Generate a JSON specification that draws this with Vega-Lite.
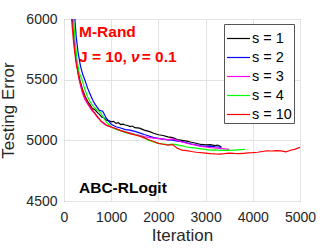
{
  "$schema": "https://vega.github.io/schema/vega-lite/v6.json",
  "width": 236,
  "height": 182,
  "autosize": "none",
  "padding": {"left": 64, "top": 19, "right": 32, "bottom": 48},
  "config": {
    "view": {"stroke": "#555555", "strokeWidth": 1},
    "font": "Liberation Sans",
    "axis": {
      "labelFont": "Liberation Sans",
      "titleFont": "Liberation Sans",
      "labelFontSize": 14,
      "titleFontSize": 17,
      "titleFontWeight": "normal",
      "labelColor": "#262626",
      "titleColor": "#262626",
      "gridColor": "#e3e3e3",
      "gridWidth": 1,
      "domain": false,
      "ticks": false
    }
  },
  "datasets": {
    "curves": [
      {"s": "s = 1", "it": 100, "v": 6700},
      {"s": "s = 1", "it": 180, "v": 6000},
      {"s": "s = 1", "it": 220, "v": 5800},
      {"s": "s = 1", "it": 260, "v": 5650},
      {"s": "s = 1", "it": 300, "v": 5560},
      {"s": "s = 1", "it": 340, "v": 5490},
      {"s": "s = 1", "it": 400, "v": 5410},
      {"s": "s = 1", "it": 450, "v": 5362},
      {"s": "s = 1", "it": 500, "v": 5322},
      {"s": "s = 1", "it": 550, "v": 5295},
      {"s": "s = 1", "it": 600, "v": 5262},
      {"s": "s = 1", "it": 650, "v": 5254},
      {"s": "s = 1", "it": 700, "v": 5232},
      {"s": "s = 1", "it": 750, "v": 5214},
      {"s": "s = 1", "it": 800, "v": 5192},
      {"s": "s = 1", "it": 850, "v": 5184},
      {"s": "s = 1", "it": 900, "v": 5166},
      {"s": "s = 1", "it": 950, "v": 5163},
      {"s": "s = 1", "it": 1000, "v": 5152},
      {"s": "s = 1", "it": 1050, "v": 5156},
      {"s": "s = 1", "it": 1100, "v": 5140},
      {"s": "s = 1", "it": 1150, "v": 5146},
      {"s": "s = 1", "it": 1200, "v": 5130},
      {"s": "s = 1", "it": 1250, "v": 5134},
      {"s": "s = 1", "it": 1300, "v": 5126},
      {"s": "s = 1", "it": 1350, "v": 5122},
      {"s": "s = 1", "it": 1400, "v": 5114},
      {"s": "s = 1", "it": 1450, "v": 5118},
      {"s": "s = 1", "it": 1500, "v": 5104},
      {"s": "s = 1", "it": 1600, "v": 5100},
      {"s": "s = 1", "it": 1700, "v": 5084},
      {"s": "s = 1", "it": 1800, "v": 5074},
      {"s": "s = 1", "it": 1900, "v": 5058},
      {"s": "s = 1", "it": 2000, "v": 5046},
      {"s": "s = 1", "it": 2100, "v": 5040},
      {"s": "s = 1", "it": 2200, "v": 5028},
      {"s": "s = 1", "it": 2300, "v": 5022},
      {"s": "s = 1", "it": 2400, "v": 5006},
      {"s": "s = 1", "it": 2500, "v": 5000},
      {"s": "s = 1", "it": 2600, "v": 4994},
      {"s": "s = 1", "it": 2700, "v": 4984},
      {"s": "s = 1", "it": 2800, "v": 4976},
      {"s": "s = 1", "it": 2900, "v": 4966},
      {"s": "s = 1", "it": 3000, "v": 4962},
      {"s": "s = 1", "it": 3100, "v": 4964},
      {"s": "s = 1", "it": 3200, "v": 4957},
      {"s": "s = 1", "it": 3250, "v": 4961},
      {"s": "s = 1", "it": 3330, "v": 4946},

      {"s": "s = 2", "it": 100, "v": 6800},
      {"s": "s = 2", "it": 230, "v": 6000},
      {"s": "s = 2", "it": 260, "v": 5850},
      {"s": "s = 2", "it": 300, "v": 5720},
      {"s": "s = 2", "it": 350, "v": 5610},
      {"s": "s = 2", "it": 400, "v": 5540},
      {"s": "s = 2", "it": 440, "v": 5500},
      {"s": "s = 2", "it": 500, "v": 5430},
      {"s": "s = 2", "it": 550, "v": 5384},
      {"s": "s = 2", "it": 600, "v": 5338},
      {"s": "s = 2", "it": 650, "v": 5302},
      {"s": "s = 2", "it": 700, "v": 5274},
      {"s": "s = 2", "it": 750, "v": 5248},
      {"s": "s = 2", "it": 820, "v": 5240},
      {"s": "s = 2", "it": 900, "v": 5180},
      {"s": "s = 2", "it": 1000, "v": 5132},
      {"s": "s = 2", "it": 1100, "v": 5112},
      {"s": "s = 2", "it": 1200, "v": 5102},
      {"s": "s = 2", "it": 1300, "v": 5088},
      {"s": "s = 2", "it": 1400, "v": 5084},
      {"s": "s = 2", "it": 1500, "v": 5074},
      {"s": "s = 2", "it": 1600, "v": 5062},
      {"s": "s = 2", "it": 1700, "v": 5048},
      {"s": "s = 2", "it": 1800, "v": 5036},
      {"s": "s = 2", "it": 1900, "v": 5022},
      {"s": "s = 2", "it": 2000, "v": 5016},
      {"s": "s = 2", "it": 2100, "v": 5010},
      {"s": "s = 2", "it": 2200, "v": 5004},
      {"s": "s = 2", "it": 2300, "v": 5002},
      {"s": "s = 2", "it": 2400, "v": 4994},
      {"s": "s = 2", "it": 2500, "v": 4990},
      {"s": "s = 2", "it": 2600, "v": 4980},
      {"s": "s = 2", "it": 2700, "v": 4970},
      {"s": "s = 2", "it": 2800, "v": 4962},
      {"s": "s = 2", "it": 2900, "v": 4954},
      {"s": "s = 2", "it": 3000, "v": 4950},
      {"s": "s = 2", "it": 3100, "v": 4953},
      {"s": "s = 2", "it": 3200, "v": 4947},
      {"s": "s = 2", "it": 3340, "v": 4944},

      {"s": "s = 3", "it": 100, "v": 6700},
      {"s": "s = 3", "it": 190, "v": 6000},
      {"s": "s = 3", "it": 230, "v": 5780},
      {"s": "s = 3", "it": 270, "v": 5630},
      {"s": "s = 3", "it": 310, "v": 5520},
      {"s": "s = 3", "it": 350, "v": 5450},
      {"s": "s = 3", "it": 400, "v": 5380},
      {"s": "s = 3", "it": 450, "v": 5330},
      {"s": "s = 3", "it": 500, "v": 5300},
      {"s": "s = 3", "it": 550, "v": 5270},
      {"s": "s = 3", "it": 600, "v": 5240},
      {"s": "s = 3", "it": 650, "v": 5222},
      {"s": "s = 3", "it": 700, "v": 5194},
      {"s": "s = 3", "it": 750, "v": 5172},
      {"s": "s = 3", "it": 800, "v": 5150},
      {"s": "s = 3", "it": 900, "v": 5122},
      {"s": "s = 3", "it": 1000, "v": 5108},
      {"s": "s = 3", "it": 1100, "v": 5096},
      {"s": "s = 3", "it": 1200, "v": 5080},
      {"s": "s = 3", "it": 1300, "v": 5068},
      {"s": "s = 3", "it": 1400, "v": 5062},
      {"s": "s = 3", "it": 1500, "v": 5050},
      {"s": "s = 3", "it": 1600, "v": 5042},
      {"s": "s = 3", "it": 1700, "v": 5030},
      {"s": "s = 3", "it": 1800, "v": 5024},
      {"s": "s = 3", "it": 1900, "v": 5018},
      {"s": "s = 3", "it": 2000, "v": 5014},
      {"s": "s = 3", "it": 2100, "v": 5010},
      {"s": "s = 3", "it": 2200, "v": 5006},
      {"s": "s = 3", "it": 2300, "v": 5012},
      {"s": "s = 3", "it": 2400, "v": 5000},
      {"s": "s = 3", "it": 2500, "v": 4986},
      {"s": "s = 3", "it": 2600, "v": 4976},
      {"s": "s = 3", "it": 2700, "v": 4966},
      {"s": "s = 3", "it": 2800, "v": 4960},
      {"s": "s = 3", "it": 2900, "v": 4950},
      {"s": "s = 3", "it": 3000, "v": 4946},
      {"s": "s = 3", "it": 3100, "v": 4940},
      {"s": "s = 3", "it": 3200, "v": 4938},
      {"s": "s = 3", "it": 3300, "v": 4934},
      {"s": "s = 3", "it": 3400, "v": 4930},
      {"s": "s = 3", "it": 3500, "v": 4925},

      {"s": "s = 4", "it": 100, "v": 6700},
      {"s": "s = 4", "it": 200, "v": 6000},
      {"s": "s = 4", "it": 240, "v": 5800},
      {"s": "s = 4", "it": 280, "v": 5650},
      {"s": "s = 4", "it": 320, "v": 5560},
      {"s": "s = 4", "it": 381, "v": 5500},
      {"s": "s = 4", "it": 450, "v": 5410},
      {"s": "s = 4", "it": 500, "v": 5360},
      {"s": "s = 4", "it": 550, "v": 5320},
      {"s": "s = 4", "it": 600, "v": 5290},
      {"s": "s = 4", "it": 650, "v": 5268},
      {"s": "s = 4", "it": 700, "v": 5250},
      {"s": "s = 4", "it": 770, "v": 5232},
      {"s": "s = 4", "it": 850, "v": 5180},
      {"s": "s = 4", "it": 900, "v": 5150},
      {"s": "s = 4", "it": 1000, "v": 5110},
      {"s": "s = 4", "it": 1100, "v": 5090},
      {"s": "s = 4", "it": 1200, "v": 5080},
      {"s": "s = 4", "it": 1300, "v": 5064},
      {"s": "s = 4", "it": 1400, "v": 5056},
      {"s": "s = 4", "it": 1500, "v": 5050},
      {"s": "s = 4", "it": 1600, "v": 5038},
      {"s": "s = 4", "it": 1700, "v": 5020},
      {"s": "s = 4", "it": 1800, "v": 5000},
      {"s": "s = 4", "it": 1900, "v": 4986},
      {"s": "s = 4", "it": 2000, "v": 4975},
      {"s": "s = 4", "it": 2100, "v": 4970},
      {"s": "s = 4", "it": 2200, "v": 4964},
      {"s": "s = 4", "it": 2300, "v": 4968},
      {"s": "s = 4", "it": 2400, "v": 4962},
      {"s": "s = 4", "it": 2500, "v": 4955},
      {"s": "s = 4", "it": 2600, "v": 4945},
      {"s": "s = 4", "it": 2700, "v": 4940},
      {"s": "s = 4", "it": 2800, "v": 4935},
      {"s": "s = 4", "it": 2900, "v": 4930},
      {"s": "s = 4", "it": 3000, "v": 4925},
      {"s": "s = 4", "it": 3100, "v": 4920},
      {"s": "s = 4", "it": 3200, "v": 4922},
      {"s": "s = 4", "it": 3300, "v": 4918},
      {"s": "s = 4", "it": 3400, "v": 4920},
      {"s": "s = 4", "it": 3500, "v": 4917},
      {"s": "s = 4", "it": 3600, "v": 4920},
      {"s": "s = 4", "it": 3700, "v": 4922},
      {"s": "s = 4", "it": 3835, "v": 4925},

      {"s": "s = 10", "it": 100, "v": 6600},
      {"s": "s = 10", "it": 160, "v": 6000},
      {"s": "s = 10", "it": 200, "v": 5820},
      {"s": "s = 10", "it": 250, "v": 5650},
      {"s": "s = 10", "it": 325, "v": 5500},
      {"s": "s = 10", "it": 400, "v": 5400},
      {"s": "s = 10", "it": 450, "v": 5350},
      {"s": "s = 10", "it": 500, "v": 5310},
      {"s": "s = 10", "it": 550, "v": 5280},
      {"s": "s = 10", "it": 629, "v": 5236},
      {"s": "s = 10", "it": 700, "v": 5200},
      {"s": "s = 10", "it": 780, "v": 5160},
      {"s": "s = 10", "it": 850, "v": 5140},
      {"s": "s = 10", "it": 900, "v": 5125},
      {"s": "s = 10", "it": 1000, "v": 5110},
      {"s": "s = 10", "it": 1100, "v": 5095},
      {"s": "s = 10", "it": 1200, "v": 5080},
      {"s": "s = 10", "it": 1300, "v": 5070},
      {"s": "s = 10", "it": 1400, "v": 5055},
      {"s": "s = 10", "it": 1500, "v": 5045},
      {"s": "s = 10", "it": 1600, "v": 5035},
      {"s": "s = 10", "it": 1700, "v": 5020},
      {"s": "s = 10", "it": 1800, "v": 5005},
      {"s": "s = 10", "it": 1900, "v": 4990},
      {"s": "s = 10", "it": 2000, "v": 4975},
      {"s": "s = 10", "it": 2100, "v": 4968},
      {"s": "s = 10", "it": 2200, "v": 4960},
      {"s": "s = 10", "it": 2300, "v": 4965},
      {"s": "s = 10", "it": 2400, "v": 4935},
      {"s": "s = 10", "it": 2500, "v": 4920},
      {"s": "s = 10", "it": 2600, "v": 4915},
      {"s": "s = 10", "it": 2700, "v": 4908},
      {"s": "s = 10", "it": 2800, "v": 4902},
      {"s": "s = 10", "it": 2900, "v": 4898},
      {"s": "s = 10", "it": 3000, "v": 4895},
      {"s": "s = 10", "it": 3100, "v": 4890},
      {"s": "s = 10", "it": 3200, "v": 4888},
      {"s": "s = 10", "it": 3300, "v": 4887},
      {"s": "s = 10", "it": 3400, "v": 4890},
      {"s": "s = 10", "it": 3500, "v": 4895},
      {"s": "s = 10", "it": 3600, "v": 4892},
      {"s": "s = 10", "it": 3700, "v": 4890},
      {"s": "s = 10", "it": 3800, "v": 4893},
      {"s": "s = 10", "it": 3900, "v": 4896},
      {"s": "s = 10", "it": 4000, "v": 4898},
      {"s": "s = 10", "it": 4100, "v": 4902},
      {"s": "s = 10", "it": 4200, "v": 4908},
      {"s": "s = 10", "it": 4300, "v": 4914},
      {"s": "s = 10", "it": 4400, "v": 4912},
      {"s": "s = 10", "it": 4500, "v": 4915},
      {"s": "s = 10", "it": 4600, "v": 4913},
      {"s": "s = 10", "it": 4700, "v": 4905},
      {"s": "s = 10", "it": 4800, "v": 4918},
      {"s": "s = 10", "it": 4900, "v": 4928},
      {"s": "s = 10", "it": 5000, "v": 4942}
    ],
    "notes": [
      {"label": "M-Rand", "x": 318, "y": 5852, "grp": "red"},
      {"label": "J = 10,", "x": 318, "y": 5646, "grp": "red"},
      {"label": "= 0.1", "x": 1646, "y": 5646, "grp": "red"},
      {"label": "ν", "x": 1420, "y": 5646, "grp": "italic"},
      {"label": "ABC-RLogit", "x": 318, "y": 4566, "grp": "black"}
    ]
  },
  "layer": [
    {
      "data": {"name": "curves"},
      "mark": {"type": "line", "clip": true, "strokeWidth": 1.2},
      "encoding": {
        "x": {
          "field": "it", "type": "quantitative",
          "scale": {"domain": [0, 5000], "nice": false},
          "axis": {"title": "Iteration", "format": "d", "values": [0, 1000, 2000, 3000, 4000, 5000], "labelPadding": 9, "titlePadding": 3, "labelFlush": false}
        },
        "y": {
          "field": "v", "type": "quantitative",
          "scale": {"domain": [4500, 6000], "nice": false, "zero": false},
          "axis": {"title": "Testing Error", "format": "d", "values": [4500, 5000, 5500, 6000], "labelPadding": 7, "titlePadding": 8, "labelFlush": false}
        },
        "color": {
          "field": "s", "type": "nominal",
          "scale": {"domain": ["s = 1", "s = 2", "s = 3", "s = 4", "s = 10"], "range": ["#000000", "#0000ff", "#ff00ff", "#00ff00", "#ff0000"]},
          "legend": {
            "title": null,
            "orient": "none",
            "legendX": 160,
            "legendY": 5,
            "symbolType": "stroke",
            "symbolSize": 529,
            "symbolStrokeWidth": 1.2,
            "labelFontSize": 14.5,
            "labelFont": "Liberation Sans",
            "labelColor": "#000000",
            "labelOffset": 1,
            "strokeColor": "#555555",
            "fillColor": "#ffffff",
            "padding": 2,
            "rowPadding": 0
          }
        }
      }
    },
    {
      "data": {"name": "notes"},
      "transform": [{"filter": "datum.grp === 'red'"}],
      "mark": {"type": "text", "align": "left", "baseline": "alphabetic", "fontWeight": "bold", "fontSize": 15.5, "color": "#ff0000", "font": "Liberation Sans"},
      "encoding": {
        "x": {"field": "x", "type": "quantitative"},
        "y": {"field": "y", "type": "quantitative"},
        "text": {"field": "label"}
      }
    },
    {
      "data": {"name": "notes"},
      "transform": [{"filter": "datum.grp === 'italic'"}],
      "mark": {"type": "text", "align": "left", "baseline": "alphabetic", "fontWeight": "bold", "fontStyle": "italic", "fontSize": 15.5, "color": "#ff0000", "font": "Liberation Sans"},
      "encoding": {
        "x": {"field": "x", "type": "quantitative"},
        "y": {"field": "y", "type": "quantitative"},
        "text": {"field": "label"}
      }
    },
    {
      "data": {"name": "notes"},
      "transform": [{"filter": "datum.grp === 'black'"}],
      "mark": {"type": "text", "align": "left", "baseline": "alphabetic", "fontWeight": "bold", "fontSize": 15.5, "color": "#000000", "font": "Liberation Sans"},
      "encoding": {
        "x": {"field": "x", "type": "quantitative"},
        "y": {"field": "y", "type": "quantitative"},
        "text": {"field": "label"}
      }
    }
  ]
}
